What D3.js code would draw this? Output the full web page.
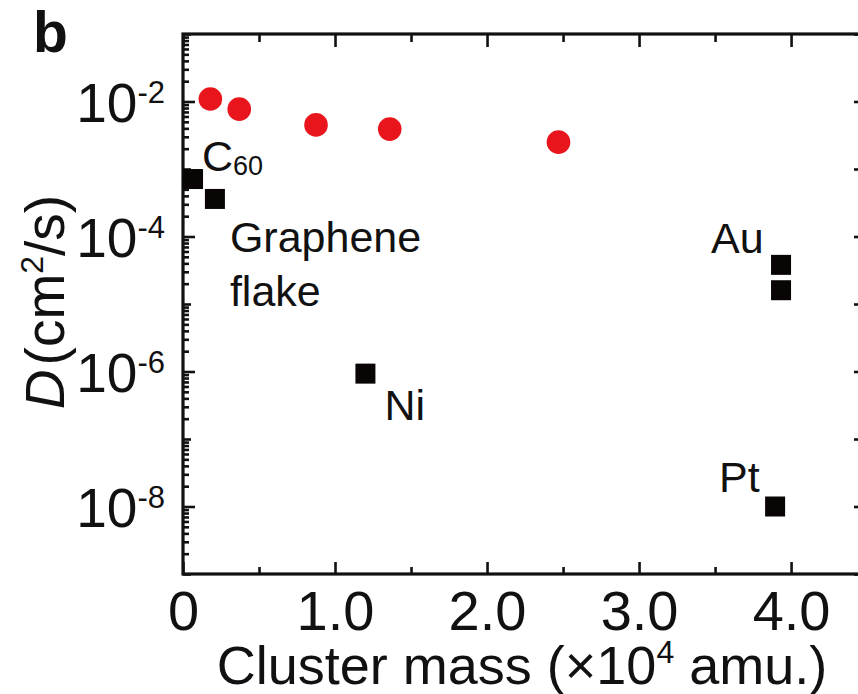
<!DOCTYPE html>
<html>
<head>
<meta charset="utf-8">
<script src="https://cdn.jsdelivr.net/npm/d3@7"></script>
<style>
  html, body { margin: 0; padding: 0; background: #fff; }
  svg { display: block; font-family: "Liberation Sans", Arial, Helvetica, sans-serif; }
</style>
</head>
<body>
<svg id="chart" width="858" height="694"></svg>
<script>
// Diffusion coefficient vs. cluster mass
// Molecular clusters (red circles)
const circleMass = [0.18, 0.37, 0.875, 1.36, 2.47];           // ×10^4 amu
const circleD    = [1.09e-2, 7.7e-3, 4.5e-3, 3.9e-3, 2.5e-3]; // cm^2/s

// Reference systems (black squares)
const squareName = ["C60", "Graphene", "Ni", "Au", "Au", "Pt"];
const squareMass = [0.066, 0.21, 1.20, 3.934, 3.934, 3.895];
const squareD    = [7.1e-4, 3.6e-4, 9.3e-7, 3.8e-5, 1.6e-5, 1.0e-8];

// Axis ticks
const xMajorTicks = [0, 1, 2, 3, 4];
const xTickLabels = ["0", "1.0", "2.0", "3.0", "4.0"];
const xMinorTicks = [0.5, 1.5, 2.5, 3.5];
const yDecades = [-9, -8, -7, -6, -5, -4, -3, -2, -1];
const yLabelExps = [-8, -6, -4, -2];

const svg = d3.select("#chart");
const pLeft = 183, pRight = 861, pTop = 34, pBottom = 574;

const x = d3.scaleLinear().domain([0, 4.46]).range([pLeft, pRight]);
const y = d3.scaleLog().domain([1e-9, 1e-1]).range([pBottom, pTop]);

const axisColor = "#111";

// Bottom axis: labelled major ticks and short minor ticks, pointing inward
const gB = svg.append("g").attr("transform", `translate(0,${pBottom})`);
gB.call(d3.axisBottom(x).tickValues(xMajorTicks).tickSize(-12).tickPadding(16)
  .tickFormat((d, i) => xTickLabels[i]));
gB.append("g").call(d3.axisBottom(x).tickValues(xMinorTicks).tickSize(-7).tickFormat(""));

// Top axis: same ticks, no labels
const gT = svg.append("g").attr("transform", `translate(0,${pTop})`);
gT.call(d3.axisTop(x).tickValues(xMajorTicks).tickSize(-13).tickFormat(""));
gT.append("g").call(d3.axisTop(x).tickValues(xMinorTicks).tickSize(-8).tickFormat(""));

// Left axis: decades plus 2..9 minor ticks
const minorLog = [];
yDecades.slice(0, -1).forEach(e => { for (let k = 2; k <= 9; k++) minorLog.push(k * Math.pow(10, e)); });
const labelled = yLabelExps.map(e => Math.pow(10, e));
const plainDecades = yDecades.filter(e => !yLabelExps.includes(e)).map(e => Math.pow(10, e));
const gL = svg.append("g").attr("transform", `translate(${pLeft},0)`);
gL.call(d3.axisLeft(y).tickValues(labelled).tickSize(-12).tickFormat(""));
gL.append("g").call(d3.axisLeft(y).tickValues(plainDecades).tickSize(-8).tickFormat(""));
gL.append("g").call(d3.axisLeft(y).tickValues(minorLog).tickSize(-6).tickFormat(""));

// Right axis: decade ticks only
const gR = svg.append("g").attr("transform", `translate(${pRight},0)`);
gR.call(d3.axisRight(y).tickValues(yDecades.map(e => Math.pow(10, e))).tickSize(-7).tickFormat(""));

// Axis styling
svg.selectAll(".domain").remove();
svg.selectAll(".tick line").attr("stroke", axisColor).attr("stroke-width", 2.6);
gB.selectAll(".tick text").attr("font-size", 56).attr("fill", "#111")
  .attr("font-family", "'Liberation Sans', Arial, sans-serif");

// Frame
svg.append("rect")
  .attr("x", pLeft).attr("y", pTop)
  .attr("width", pRight - pLeft).attr("height", pBottom - pTop)
  .attr("fill", "none").attr("stroke", axisColor).attr("stroke-width", 3.2);

// Y tick labels 10^n
const yLab = svg.append("g").attr("fill", "#111");
yLabelExps.forEach(e => {
  const t = yLab.append("text")
    .attr("x", pLeft - 18)
    .attr("y", y(Math.pow(10, e)) + 20)
    .attr("text-anchor", "end")
    .attr("font-size", 55);
  t.append("tspan").text("10");
  t.append("tspan").attr("font-size", 31).attr("dy", -19).text(String(e));
});

// Axis titles
const xt = svg.append("text")
  .attr("x", (pLeft + pRight) / 2).attr("y", 684)
  .attr("text-anchor", "middle").attr("font-size", 54).attr("fill", "#111");
xt.append("tspan").text("Cluster mass (×10");
xt.append("tspan").attr("font-size", 32).attr("dy", -21).text("4");
xt.append("tspan").attr("dy", 21).text(" amu.)");

const yt = svg.append("text")
  .attr("transform", `translate(64,${(pTop + pBottom) / 2 - 2}) rotate(-90)`)
  .attr("text-anchor", "middle").attr("font-size", 55).attr("fill", "#111");
yt.append("tspan").attr("font-style", "italic").text("D");
yt.append("tspan").attr("dx", 4).text("(cm");
yt.append("tspan").attr("font-size", 32).attr("dy", -21).text("2");
yt.append("tspan").attr("dy", 21).text("/s)");

// Panel letter
svg.append("text").attr("x", 33).attr("y", 52)
  .attr("font-size", 57).attr("font-weight", "bold").attr("fill", "#111").text("b");

// Marks
const sq = 20;
svg.append("g").selectAll("rect")
  .data(squareMass.map((m, i) => ({ m, d: squareD[i] })))
  .join("rect")
  .attr("x", p => x(p.m) - sq / 2).attr("y", p => y(p.d) - sq / 2)
  .attr("width", sq).attr("height", sq).attr("fill", "#0a0505");

svg.append("g").selectAll("circle")
  .data(circleMass.map((m, i) => ({ m, d: circleD[i] })))
  .join("circle")
  .attr("cx", p => x(p.m)).attr("cy", p => y(p.d)).attr("r", 11.8)
  .attr("fill", "#e8161c");

// Annotations, placed relative to their marks
const ann = svg.append("g").attr("fill", "#111").attr("font-size", 43);
function at(i) { return [x(squareMass[i]), y(squareD[i])]; }

let [cx, cy] = at(0);
const c60 = ann.append("text").attr("x", cx + 9).attr("y", cy - 8);
c60.append("tspan").text("C");
c60.append("tspan").attr("font-size", 27).attr("dy", 4).text("60");

[cx, cy] = at(1);
ann.append("text").attr("x", cx + 15).attr("y", cy + 53).text("Graphene");
ann.append("text").attr("x", cx + 15).attr("y", cy + 107).text("flake");

[cx, cy] = at(2);
ann.append("text").attr("x", cx + 19).attr("y", cy + 46).text("Ni");

[cx, cy] = at(3);
ann.append("text").attr("x", cx - 70).attr("y", cy - 12).text("Au");

[cx, cy] = at(5);
ann.append("text").attr("x", cx - 56).attr("y", cy - 15).text("Pt");
</script>
</body>
</html>
